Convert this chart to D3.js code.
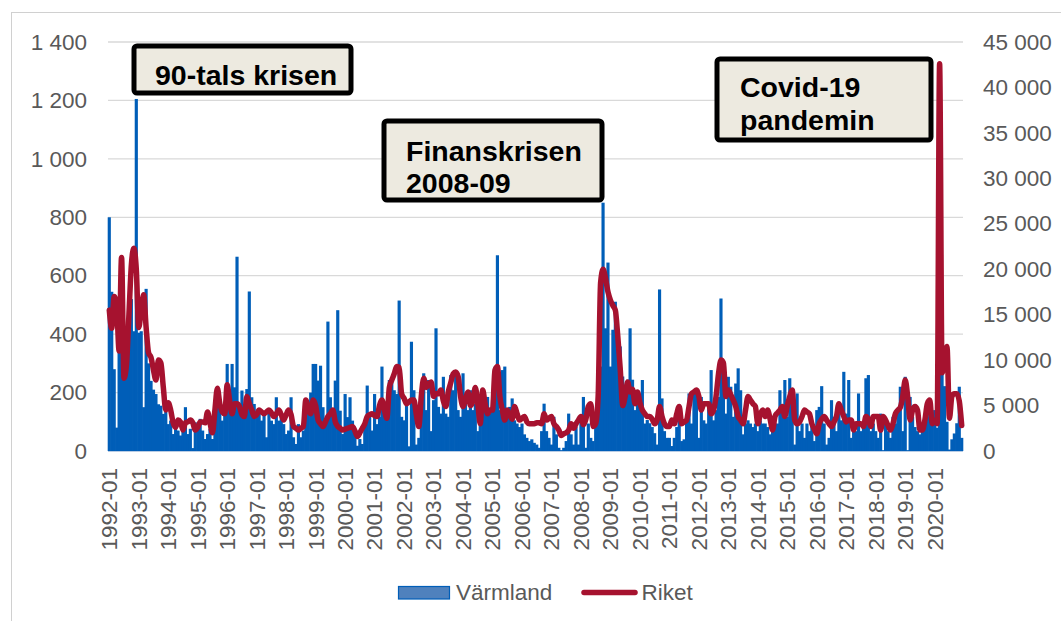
<!DOCTYPE html>
<html>
<head>
<meta charset="utf-8">
<script src="https://cdn.jsdelivr.net/npm/d3@7"></script>
<style>
  html, body { margin: 0; padding: 0; background: #fff; }
  svg { display: block; font-family: "Liberation Sans", Arial, sans-serif; }
</style>
</head>
<body>
<svg id="chart" width="1061" height="621"></svg>
<script>
// ---------- data ----------
const years = d3.range(1992, 2021);
const monthNums = ["01","02","03","04","05","06","07","08","09","10","11","12"];
const categories = [];
years.forEach(y => monthNums.forEach(m => categories.push(y + "-" + m)));

const tickLabels = ["1992-01","1993-01","1994-01","1995-01","1996-01","1997-01","1998-01","1999-01",
  "2000-01","2001-01","2002-01","2003-01","2004-01","2005-01","2006-01","2007-01","2008-01","2009-01",
  "2010-01","2011-01","2012-01","2013-01","2014-01","2015-01","2016-01","2017-01","2018-01","2019-01","2020-01"];

const leftTicks = [0, 200, 400, 600, 800, 1000, 1200, 1400];
const rightTicks = [0, 5000, 10000, 15000, 20000, 25000, 30000, 35000, 40000, 45000];

const seriesNames = ["Värmland", "Riket"];

const varmland = [
  800, 545, 280, 80, 350, 450, 260, 290, 430, 520, 410, 1205,
  405, 410, 150, 555, 300, 240, 210, 195, 160, 155, 127, 138,
  92, 104, 58, 87, 70, 53, 76, 150, 58, 76, 10, 98,
  81, 110, 70, 41, 58, 76, 41, 104, 150, 173, 104, 120,
  298, 200, 298, 218, 665, 161, 207, 150, 212, 546, 184, 161,
  127, 138, 104, 127, 47, 138, 104, 92, 184, 104, 127, 92,
  58, 70, 184, 47, 24, 92, 47, 70, 116, 173, 200, 298,
  298, 241, 292, 150, 92, 443, 184, 116, 241, 482, 138, 58,
  195, 116, 184, 104, 53, 18, 41, 24, 92, 224, 127, 70,
  195, 92, 117, 289, 120, 120, 243, 243, 208, 195, 515, 117,
  105, 162, 16, 374, 208, 22, 45, 150, 266, 140, 243, 68,
  174, 420, 151, 128, 254, 128, 117, 260, 208, 277, 140, 117,
  266, 162, 140, 208, 140, 162, 68, 105, 174, 151, 185, 128,
  174, 250, 670, 140, 277, 289, 117, 151, 180, 105, 94, 82,
  94, 57, 45, 34, 40, 28, 22, 11, 68, 162, 68, 45,
  22, 117, 57, 11, 3, 11, 34, 128, 57, 22, 82, 22,
  120, 185, 11, 94, 45, 34, 117, 185, 289, 850, 420, 645,
  289, 415, 511, 415, 358, 255, 175, 244, 420, 244, 140, 164,
  152, 243, 94, 106, 95, 82, 61, 22, 553, 180, 68, 45,
  45, 17, 45, 82, 105, 34, 40, 105, 197, 94, 208, 197,
  45, 185, 105, 94, 162, 277, 105, 140, 185, 522, 289, 128,
  254, 220, 117, 231, 283, 208, 57, 94, 105, 94, 82, 94,
  68, 105, 94, 94, 82, 57, 82, 94, 94, 208, 151, 243,
  117, 249, 140, 22, 197, 68, 94, 45, 94, 68, 94, 34,
  140, 151, 222, 94, 22, 45, 174, 117, 68, 128, 105, 271,
  128, 243, 45, 82, 68, 197, 68, 94, 249, 260, 68, 94,
  68, 45, 128, 3, 94, 68, 45, 117, 94, 140, 220, 68,
  254, 3, 185, 117, 82, 68, 57, 94, 117, 151, 117, 94,
  140, 80, 260, 380, 222, 100, 5, 40, 60, 95, 220, 45
];

const riket = [
  15500, 13500, 17000, 16000, 11000, 21300, 8000, 9500, 15000, 20500, 22300, 20000,
  13600, 15500, 17200, 13600, 10800, 10300, 8900, 7800, 10000, 9700, 7000, 4500,
  5300, 4500, 3100, 2600, 3400, 3200, 2300, 3100, 3200, 3400, 3100, 2300,
  2600, 3200, 3200, 3100, 4300, 3100, 2000, 4500, 6900, 5200, 4300, 4100,
  7300, 5500, 4100, 5200, 5200, 4900, 4000, 3800, 6000, 5200, 4500, 3800,
  4000, 4500, 4300, 4100, 4300, 4500, 4200, 3800, 4100, 4500, 4000, 3400,
  4000, 4500, 4000, 2700, 2500, 2300, 2500, 2700, 5600, 4500, 4100, 5600,
  5000, 3400, 3000, 2700, 3200, 3800, 4100, 4500, 3200, 2700, 2500, 2300,
  2400, 2500, 2600, 2700, 2200, 1600, 2000, 2500, 3000, 3800, 4000, 4100,
  3900, 3800, 5000, 5600, 4500, 3600, 7000, 7800, 8500, 9300, 9200, 6300,
  5800, 5200, 5400, 5600, 5600, 4000, 2700, 6000, 8000, 7000, 7400, 7600,
  6000, 6300, 6300, 6700, 5500, 4900, 6500, 7500, 8500, 8700, 8200, 6000,
  4900, 5800, 6500, 5000, 5500, 7000, 5200, 3000, 6700, 5200, 4100, 4500,
  4500, 8900, 9300, 6000, 4500, 3400, 4500, 4000, 3500, 4900, 4100, 3400,
  3600, 3800, 3200, 3000, 3000, 3000, 3100, 3100, 3000, 4100, 3400, 3600,
  3800, 3000, 2700, 2300, 1700, 1900, 2000, 2300, 3000, 2500, 3000, 3400,
  3800, 2900, 3500, 4900, 5200, 2700, 3000, 6000, 18500, 20000, 19000, 17500,
  16600, 16000, 15500, 12600, 9000, 5000, 6000, 7600, 6500, 6800, 5200, 6500,
  5300, 4500, 4100, 3800, 3800, 3500, 3000, 3400, 4900, 3800, 3000, 2700,
  2700, 3400, 3000, 4100, 4900, 3000, 3200, 3400, 4900, 6300, 6500, 6700,
  6000, 4500, 5200, 5200, 5200, 4100, 4500, 6000, 8500, 10000, 9700, 6000,
  6700, 6200, 5600, 4900, 3800, 3400, 3000, 4500, 6000, 5600, 5200, 4900,
  3000, 4000, 4500, 3800, 4500, 3500, 2300, 3800, 4200, 4500, 4900, 3800,
  5000, 6000, 6700, 3400, 3000, 3200, 3800, 4500, 4300, 4100, 3000, 2400,
  1900, 3000, 3500, 3800, 3400, 3000, 2700, 3200, 3800, 5200, 4500, 3800,
  3200, 3400, 3400, 2300, 3000, 3000, 3000, 2700, 3800, 3500, 2700, 3800,
  3800, 3800, 2300, 3800, 3400, 2800, 2300, 3000, 4100, 4500, 4800, 6000,
  7800, 6000, 3400, 4500, 4900, 4500, 2300, 2300, 3400, 5200, 5600, 3000,
  3400, 3000, 42600, 8600, 10000, 11500, 3600, 6000, 6300, 6300, 5500, 2800
];

const annotations = [
  { lines: ["90-tals krisen"] },
  { lines: ["Finanskrisen", "2008-09"] },
  { lines: ["Covid-19", "pandemin"] }
];

// ---------- layout ----------
const plot = { left: 108, right: 963, top: 42, bottom: 451 };
const barColor = "#005EB8";
const lineColor = "#A6122F";
const textColor = "#595959";
const gridColor = "#D9D9D9";
const fontSize = 22.5;

const svg = d3.select("#chart");

const locale = d3.formatLocale({ decimal: ",", thousands: "\u00a0", grouping: [3], currency: ["", ""] });
const fmt = locale.format(",d");

const x = d3.scaleBand().domain(categories).range([plot.left, plot.right]).paddingInner(0).paddingOuter(0.02);
const yL = d3.scaleLinear().domain([0, 1400]).range([plot.bottom, plot.top]);
const yR = d3.scaleLinear().domain([0, 45000]).range([plot.bottom, plot.top]);

// outer frame
svg.append("rect")
  .attr("x", 11.5).attr("y", 12.5).attr("width", 1100).attr("height", 700)
  .attr("fill", "none").attr("stroke", "#D0D0D0").attr("stroke-width", 1);

// gridlines (left axis)
svg.append("g")
  .selectAll("line").data(leftTicks.filter(d => d > 0)).join("line")
  .attr("x1", plot.left).attr("x2", plot.right)
  .attr("y1", d => yL(d)).attr("y2", d => yL(d))
  .attr("stroke", gridColor).attr("stroke-width", 1.3);

// bars (slight overlap so neighbouring bars read as a solid mass)
svg.append("g")
  .selectAll("rect").data(categories).join("rect")
  .attr("x", (d) => x(d) - 0.35)
  .attr("width", x.bandwidth() + 0.7)
  .attr("y", (d, i) => yL(varmland[i]))
  .attr("height", (d, i) => yL(0) - yL(varmland[i]))
  .attr("fill", barColor);

// baseline
svg.append("line")
  .attr("x1", plot.left).attr("x2", plot.right)
  .attr("y1", plot.bottom + 0.5).attr("y2", plot.bottom + 0.5)
  .attr("stroke", "#B8CCE4").attr("stroke-width", 1);

// line
const lineGen = d3.line()
  .x((d, i) => x(categories[i]) + x.bandwidth() / 2)
  .y(d => yR(d))
  .curve(d3.curveMonotoneX);
svg.append("path")
  .datum(riket)
  .attr("d", lineGen)
  .attr("fill", "none")
  .attr("stroke", lineColor)
  .attr("stroke-width", 5.5)
  .attr("stroke-linejoin", "round")
  .attr("stroke-linecap", "round");

// left axis
const axL = svg.append("g").attr("transform", `translate(${plot.left - 21},0)`)
  .call(d3.axisLeft(yL).tickValues(leftTicks).tickFormat(fmt).tickSize(0).tickPadding(0));
axL.select(".domain").remove();
axL.selectAll("text").attr("fill", textColor).attr("font-size", fontSize)
  .attr("font-family", "Liberation Sans, Arial, sans-serif");

// right axis
const axR = svg.append("g").attr("transform", `translate(${plot.right + 20},0)`)
  .call(d3.axisRight(yR).tickValues(rightTicks).tickFormat(fmt).tickSize(0).tickPadding(0));
axR.select(".domain").remove();
axR.selectAll("text").attr("fill", textColor).attr("font-size", fontSize)
  .attr("font-family", "Liberation Sans, Arial, sans-serif");

// x axis
const axX = svg.append("g").attr("transform", `translate(0,${plot.bottom})`)
  .call(d3.axisBottom(x).tickValues(tickLabels).tickSize(0).tickPadding(0));
axX.select(".domain").remove();
axX.selectAll("text")
  .attr("fill", textColor).attr("font-size", fontSize)
  .attr("font-family", "Liberation Sans, Arial, sans-serif")
  .attr("text-anchor", "end")
  .attr("transform", "rotate(-90)")
  .attr("x", -17).attr("y", 0).attr("dy", "0.35em");

// annotation boxes
const boxes = [
  { x: 134, y: 46, w: 217, h: 47, tx: 155, ty: [85] },
  { x: 384, y: 121, w: 218, h: 79, tx: 406, ty: [161, 193] },
  { x: 717, y: 59, w: 214, h: 81, tx: 740, ty: [97, 130] }
];
const defs = svg.append("defs");
boxes.forEach((b, k) => {
  defs.append("clipPath").attr("id", "clip" + k)
    .append("rect").attr("x", b.x).attr("y", b.y).attr("width", b.w).attr("height", b.h);
  const g = svg.append("g");
  g.append("rect").attr("x", b.x).attr("y", b.y).attr("width", b.w).attr("height", b.h)
    .attr("rx", 3).attr("fill", "#EDEAE0");
  const tg = g.append("g").attr("clip-path", `url(#clip${k})`);
  annotations[k].lines.forEach((t, j) => {
    tg.append("text").attr("x", b.tx).attr("y", b.ty[j])
      .attr("font-size", 28.5).attr("font-weight", "bold").attr("fill", "#000")
      .text(t);
  });
  g.append("rect").attr("x", b.x).attr("y", b.y).attr("width", b.w).attr("height", b.h)
    .attr("rx", 3).attr("fill", "none").attr("stroke", "#000").attr("stroke-width", 5);
});

// legend
const lg = svg.append("g");
lg.append("rect").attr("x", 398.5).attr("y", 586.5).attr("width", 51).attr("height", 12.5)
  .attr("fill", "#4F81BD").attr("stroke", barColor).attr("stroke-width", 1.2);
lg.append("text").attr("x", 456).attr("y", 592.5).attr("dy", "0.35em")
  .attr("font-size", fontSize).attr("fill", textColor).text(seriesNames[0]);
lg.append("line").attr("x1", 584).attr("x2", 635).attr("y1", 592.5).attr("y2", 592.5)
  .attr("stroke", lineColor).attr("stroke-width", 5.5).attr("stroke-linecap", "round");
lg.append("text").attr("x", 641.5).attr("y", 592.5).attr("dy", "0.35em")
  .attr("font-size", fontSize).attr("fill", textColor).text(seriesNames[1]);
</script>
</body>
</html>
